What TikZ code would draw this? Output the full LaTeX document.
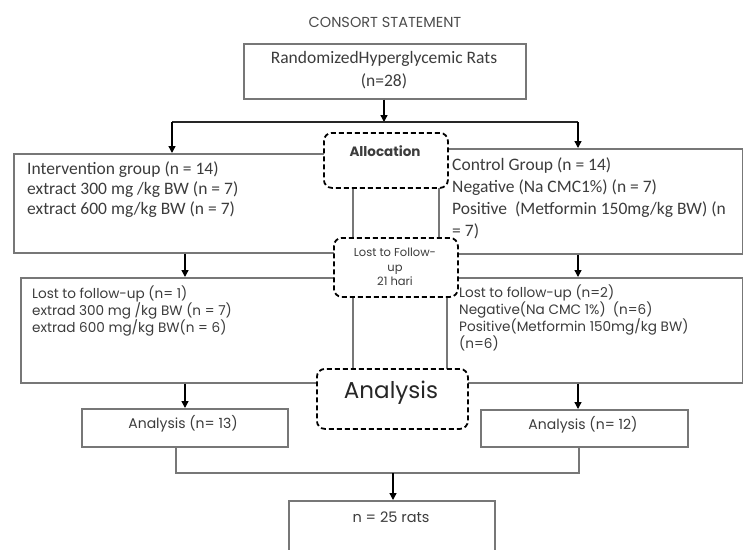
\documentclass[tikz,border=0pt]{standalone}
\usepackage{fontspec}
\setmainfont{Carlito}
\newfontfamily\geo{Poppins}
\usetikzlibrary{arrows.meta}
\definecolor{boxgray}{HTML}{777777}
\definecolor{txtgray}{HTML}{3C3C3C}
\tikzset{
  box/.style={draw=boxgray, line width=1.5pt, fill=white, inner sep=0pt, anchor=north west},
  dbox/.style={draw=black, line width=1.8pt, dash pattern=on 5pt off 3pt, rounded corners=8pt, fill=white, inner sep=0pt, anchor=north west},
  arr/.style={draw=black, line width=1.4pt, -{Triangle[length=7pt,width=7pt]}},
  conn/.style={draw=boxgray, line width=1.5pt},
  txt/.style={inner sep=0pt, anchor=north west, align=left, text=txtgray},
  lbl/.style={inner sep=0pt, text=txtgray},
}
\begin{document}
\begin{tikzpicture}[x=1pt,y=-1pt]
\useasboundingbox (0,0) rectangle (743,549);
\fill[white] (0,0) rectangle (743,549);
\clip (0,0) rectangle (743,549);

% title
\node[lbl, font=\geo\fontsize{14.5}{16}\selectfont, text=black!70] (title) at (385,22) {CONSORT STATEMENT};

% top box
\node[box, minimum width=282pt, minimum height=55pt] (top) at (243,43) {};
\node[lbl, align=center, font=\fontsize{17.5}{23}\selectfont] (topt) at (384,70) {RandomizedHyperglycemic Rats\\(n=28)};

% row 1 boxes
\node[box, minimum width=339pt, minimum height=99pt] (l1) at (13,153) {};
\node[box, minimum width=304pt, minimum height=105pt] (r1) at (438,148) {};
\node[txt, font=\fontsize{17.5}{20}\selectfont] (l1t) at (27,161) {Intervention group (n = 14)\\extract 300 mg /kg BW (n = 7)\\extract 600 mg/kg BW (n = 7)};
\node[txt, font=\fontsize{17.5}{22.3}\selectfont] (r1t) at (452,157) {Control Group (n = 14)\\Negative (Na CMC1\%) (n = 7)\\Positive \ (Metformin 150mg/kg BW) (n\\= 7)};

% row 2 boxes
\node[box, minimum width=332pt, minimum height=105pt] (l2) at (20,277) {};
\node[box, minimum width=296pt, minimum height=105pt] (r2) at (446,277) {};
\node[txt, font=\geo\fontsize{13.6}{17}\selectfont] (l2t) at (32,286) {Lost to follow-up (n= 1)\\extrad 300 mg /kg BW (n = 7)\\extrad 600 mg/kg BW(n = 6)};
\node[txt, font=\geo\fontsize{13.6}{17}\selectfont] (r2t) at (459,285) {Lost to follow-up (n=2)\\Negative(Na CMC 1\%) \ (n=6)\\Positive(Metformin 150mg/kg BW)\\(n=6)};

% dashed boxes
\node[dbox, minimum width=124pt, minimum height=55pt] (alloc) at (323,132) {};
\node[lbl, font=\geo\bfseries\fontsize{13.5}{15}\selectfont] (allocT) at (385,151) {Allocation};
\node[dbox, minimum width=124pt, minimum height=59pt] (lost) at (333,237) {};
\node[lbl, align=center, font=\geo\fontsize{11.5}{14.5}\selectfont] (lostT) at (395,267) {Lost to Follow-\\up\\21 hari};
\node[dbox, minimum width=151pt, minimum height=60pt] (ana) at (316,368) {};
\node[lbl, text=black!85, font=\geo\fontsize{23}{26}\selectfont] (anaT) at (391,393) {Analysis};

% analysis boxes
\node[box, minimum width=206pt, minimum height=38pt] (a13) at (81,408) {};
\node[lbl, font=\geo\fontsize{14}{16}\selectfont] (a13t) at (183,424) {Analysis (n= 13)};
\node[box, minimum width=207pt, minimum height=37pt] (a12) at (480,409) {};
\node[lbl, font=\geo\fontsize{14}{16}\selectfont] (a12t) at (583,425) {Analysis (n= 12)};

% final box
\node[box, minimum width=206pt, minimum height=70pt] (fin) at (288,500) {};
\node[lbl, font=\geo\fontsize{14.5}{16}\selectfont] (fint) at (391,517) {n = 25 rats};

% connectors
\coordinate (split) at (384,122);
\coordinate (sl) at (172,122);
\coordinate (sr) at (578,122);
\draw[arr] (top.south -| split) -- (split);
\draw[conn, draw=black!85] (sl) -- (sr);
\draw[arr] (sl) -- (sl |- l1.north);
\draw[arr] (sr) -- (sr |- r1.north);

\coordinate (c1l) at (185,0);
\coordinate (c1r) at (578,0);
\draw[arr] (c1l |- l1.south) -- (c1l |- l2.north);
\draw[arr] (c1r |- r1.south) -- (c1r |- r2.north);
\draw[arr] (c1l |- l2.south) -- (c1l |- a13.north);
\draw[arr] (c1r |- r2.south) -- (c1r |- a12.north);

\coordinate (jl) at (176,473);
\coordinate (jr) at (579,473);
\coordinate (jm) at (393,473);
\draw[conn] (jl |- a13.south) -- (jl) -- (jr) -- (jr |- a12.south);
\draw[arr] (jm) -- (jm |- fin.north);
\end{tikzpicture}
\end{document}
